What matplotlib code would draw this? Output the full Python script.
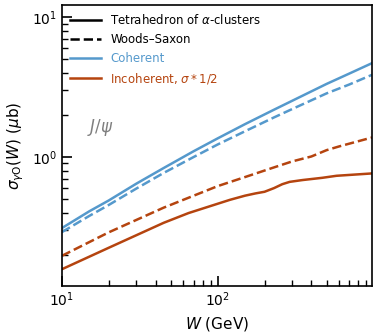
import numpy as np
import matplotlib.pyplot as plt

# Энергии W (GeV) и сечения (мкб)
W_coh = [10, 15, 20, 30, 45, 70, 100, 150, 230, 300, 500, 700, 980]
coh_tetra = [0.311, 0.41, 0.49, 0.645, 0.835, 1.10, 1.36, 1.72, 2.18, 2.52,
             3.33, 3.95, 4.69]
coh_ws = [0.291, 0.38, 0.455, 0.595, 0.77, 1.00, 1.23, 1.53, 1.92, 2.20,
          2.85, 3.30, 3.87]

W_inc_ws = [10, 20, 45, 100, 150, 220, 300, 400, 500, 600, 980]
inc_ws = [0.197, 0.29, 0.435, 0.62, 0.72, 0.83, 0.93, 1.01, 1.12, 1.19, 1.38]

W_inc_t = [10, 20, 45, 65, 120, 150, 175, 200, 230, 260, 290, 350, 470,
           580, 980]
inc_tetra = [0.158, 0.225, 0.339, 0.398, 0.495, 0.53, 0.55, 0.565, 0.60,
             0.64, 0.665, 0.685, 0.711, 0.735, 0.764]

blue = '#5599cc'
rust = '#b5440f'

fig = plt.figure(figsize=(3.8, 3.36), dpi=100)
ax = fig.add_axes([0.163, 0.149, 0.816, 0.836])

ax.plot(W_coh, coh_tetra, color=blue, lw=1.8)
ax.plot(W_coh, coh_ws, color=blue, lw=1.8, ls='--')
ax.plot(W_inc_ws, inc_ws, color=rust, lw=1.8, ls='--')
ax.plot(W_inc_t, inc_tetra, color=rust, lw=1.8)

# Легенда: стиль линии и цвет отдельно
h1, = ax.plot([], [], color='black', lw=1.8)
h2, = ax.plot([], [], color='black', lw=1.8, ls='--')
h3, = ax.plot([], [], color=blue, lw=1.8)
h4, = ax.plot([], [], color=rust, lw=1.8)
leg = ax.legend([h1, h2, h3, h4],
                [r'Tetrahedron of $\alpha$-clusters', 'Woods–Saxon',
                 'Coherent', r'Incoherent, $\sigma*1/2$'],
                loc='upper left', frameon=False, fontsize=8.5,
                handlelength=2.6, borderaxespad=0.3)
for txt, c in zip(leg.get_texts(), ['black', 'black', blue, rust]):
    txt.set_color(c)

ax.text(0.08, 0.565, r'$J/\psi$', transform=ax.transAxes, color='gray',
        fontsize=12, va='center')

ax.set_xscale('log')
ax.set_yscale('log')
ax.set_xlim(10, 980)
ax.set_ylim(0.12, 12.2)
ax.set_xlabel(r'$W$ (GeV)', fontsize=11)
ax.set_ylabel(r'$\sigma_{\gamma\mathrm{O}}(W)$ ($\mu$b)', fontsize=11)
ax.tick_params(which='both', direction='in', labelsize=10)
ax.tick_params(which='major', length=7, width=1.2)
ax.tick_params(which='minor', length=4, width=1)
for s in ax.spines.values():
    s.set_linewidth(1.2)

plt.savefig('out.png', dpi=100)
